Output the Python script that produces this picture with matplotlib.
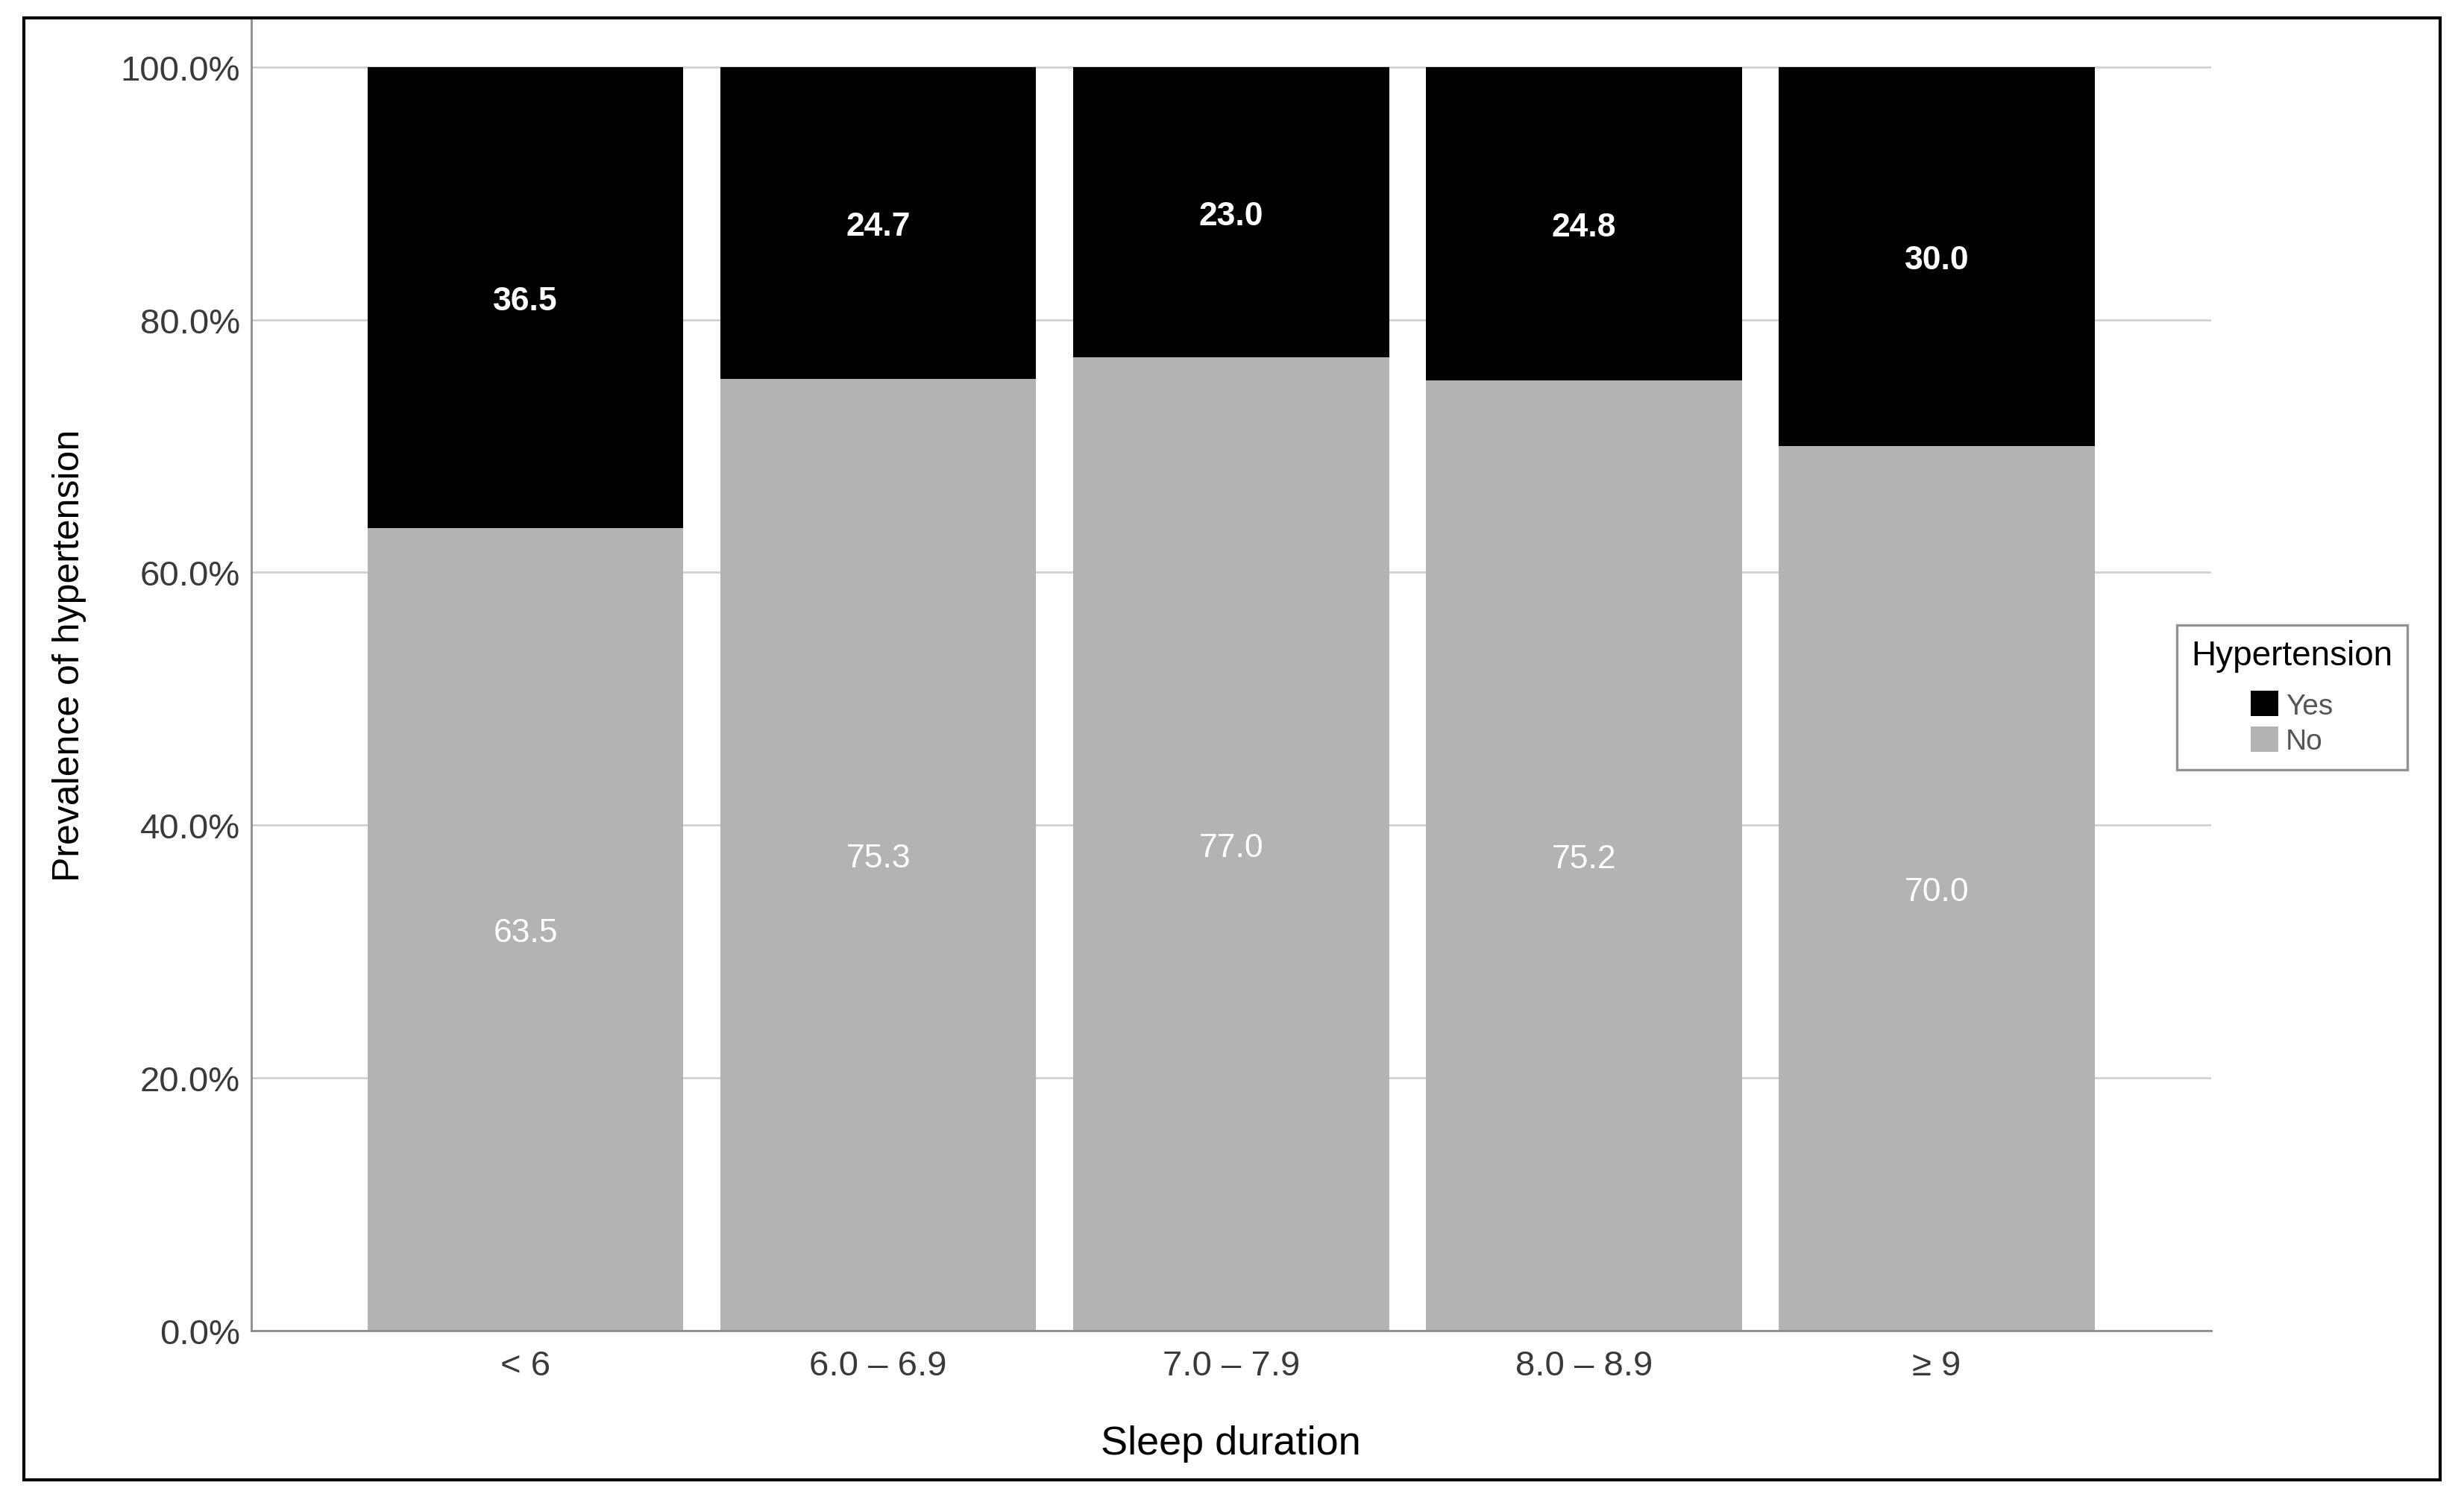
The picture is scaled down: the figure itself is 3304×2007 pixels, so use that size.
import matplotlib
matplotlib.use("Agg")
import matplotlib.pyplot as plt
from matplotlib.patches import Patch, Rectangle

# sleep duration groups and % with / without hypertension
categories = ["< 6", "6.0 \u2013 6.9", "7.0 \u2013 7.9", "8.0 \u2013 8.9", "\u2265 9"]
no_pct = [63.5, 75.3, 77.0, 75.2, 70.0]
yes_pct = [36.5, 24.7, 23.0, 24.8, 30.0]
y_ticks = [0, 20, 40, 60, 80, 100]

plt.rcParams['font.family'] = ['Liberation Sans', 'DejaVu Sans']

fig = plt.figure(figsize=(16.52, 10.04), dpi=200)
ax = fig.add_axes([0.1020, 0.1111, 0.7953, 0.8749])

x = list(range(len(categories)))
bars_no = ax.bar(x, no_pct, width=0.895, color='#b3b3b3', zorder=2)
bars_yes = ax.bar(x, yes_pct, bottom=no_pct, width=0.895, color='black', zorder=2)

for i in x:
    ax.text(i, no_pct[i] / 2, f"{no_pct[i]:.1f}", ha='center', va='center_baseline',
            color='white', fontsize=16, zorder=3)
    ax.text(i, no_pct[i] + yes_pct[i] / 2, f"{yes_pct[i]:.1f}", ha='center',
            va='center_baseline', color='white', fontsize=16, fontweight='bold', zorder=3)

ax.set_xlim(-0.777, 4.777)
ax.set_ylim(0, 103.7)
ax.set_yticks(y_ticks)
ax.set_yticklabels([f"{v:.1f}%" for v in y_ticks])
ax.set_xticks(x)
ax.set_xticklabels(categories)
ax.tick_params(axis='both', length=0, labelsize=17, labelcolor='#3a3a3a')
ax.tick_params(axis='y', pad=5.5)
ax.tick_params(axis='x', pad=9)

ax.grid(axis='y', color='#d0d0d0', linewidth=1.0, zorder=0)
ax.set_axisbelow(True)
for side in ['top', 'right']:
    ax.spines[side].set_visible(False)
for side in ['left', 'bottom']:
    ax.spines[side].set_color('#8c8c8c')
    ax.spines[side].set_linewidth(1.0)

ax.set_ylabel("Prevalence of hypertension", fontsize=18, color='black')
ax.yaxis.set_label_coords(-0.0840, 0.516)
ax.set_xlabel("Sleep duration", fontsize=19.5, color='black')
ax.xaxis.set_label_coords(0.5, -0.0717)

handles = [Patch(facecolor='black', label='Yes'), Patch(facecolor='#b3b3b3', label='No')]
leg = fig.legend(handles=handles, title="Hypertension", loc='center',
                 bbox_to_anchor=(0.9301, 0.5339), fontsize=14, title_fontsize=16.5,
                 frameon=True, fancybox=False, handlelength=0.95, handleheight=0.95,
                 handletextpad=0.25, labelspacing=0.25, borderpad=0.5)
leg._legend_box.sep = 9
leg.get_frame().set_edgecolor('#777777')
leg.get_frame().set_linewidth(1.2)
for t in leg.get_texts():
    t.set_color('#555555')

# outer border round the whole chart
fig.patches.append(Rectangle((0.0097, 0.0115), 0.9806, 0.9760, transform=fig.transFigure,
                             fill=False, edgecolor='black', linewidth=1.5, zorder=10))

fig.savefig("out.png", dpi=200)
